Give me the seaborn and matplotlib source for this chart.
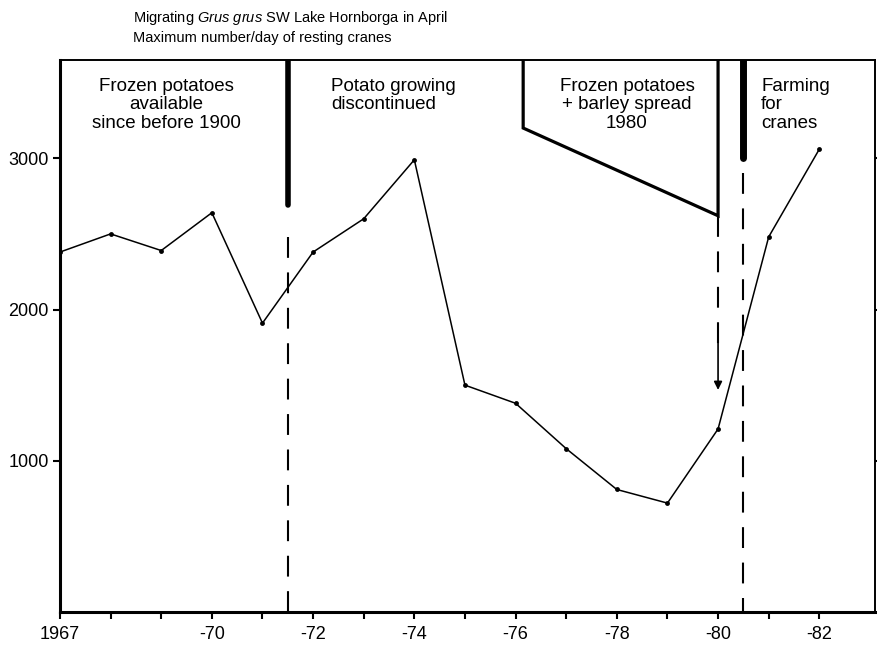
"""
Migrating Grus grus at Lake Hornborga: maximum number of resting cranes per day in April.
"""

import pandas as pd
import matplotlib
matplotlib.use('Agg')
import matplotlib.pyplot as plt
import seaborn as sns

# Data
years = [1967, 1968, 1969, 1970, 1971, 1972, 1973, 1974,
         1975, 1976, 1977, 1978, 1979, 1980, 1981, 1982]
max_cranes = [2380, 2500, 2390, 2640, 1910, 2380, 2600, 2990,
              1500, 1380, 1080, 810, 720, 1210, 2480, 3060]
tick_years = [1967, 1970, 1972, 1974, 1976, 1978, 1980, 1982]
tick_labels = ['1967', '-70', '-72', '-74', '-76', '-78', '-80', '-82']
y_ticks = [1000, 2000, 3000]

df = pd.DataFrame({'Year': years, 'Cranes': max_cranes})

sns.set_style('ticks', {'xtick.bottom': True, 'ytick.left': True})
plt.rcParams['font.family'] = ['Liberation Sans', 'DejaVu Sans']
plt.rcParams['text.color'] = 'black'
plt.rcParams['mathtext.fontset'] = 'custom'
plt.rcParams['mathtext.it'] = 'Liberation Sans:italic'
plt.rcParams['mathtext.rm'] = 'Liberation Sans'
plt.rcParams['xtick.major.size'] = 5
plt.rcParams['xtick.minor.size'] = 5
plt.rcParams['ytick.major.size'] = 5
plt.rcParams['xtick.major.width'] = 1.5
plt.rcParams['xtick.minor.width'] = 1.5
plt.rcParams['ytick.major.width'] = 1.5

fig = plt.figure(figsize=(8.77, 6.47), dpi=100)
ax = fig.add_axes([0.0684, 0.0541, 0.9293, 0.8532])

sns.lineplot(data=df, x='Year', y='Cranes', ax=ax, color='black', lw=1.1,
             marker='o', markersize=3.5, markeredgewidth=0)

ax.set_xlim(1967, 1983.1)
ax.set_ylim(0, 3650)

# ticks
ax.set_xticks(range(1967, 1983), minor=True)
ax.set_xticks(tick_years)
ax.set_xticklabels(tick_labels)
ax.set_yticks(y_ticks)
ax.set_yticklabels([str(v) for v in y_ticks])
ax.tick_params(which='both', direction='out', labelsize=13,
               colors='black', left=True, bottom=True, right=True, top=False)
ax.tick_params(axis='x', which='both', pad=5)
ax.tick_params(axis='y', pad=3)
ax.set_xlabel('')
ax.set_ylabel('')

for side in ['left', 'bottom', 'top', 'right']:
    ax.spines[side].set_visible(True)
    ax.spines[side].set_color('black')
for side in ['left', 'bottom']:
    ax.spines[side].set_linewidth(2.2)
for side in ['top', 'right']:
    ax.spines[side].set_linewidth(1.4)

dash = (0, (10, 7))

# 1971/72: thick bar then dashed line
ax.plot([1971.5, 1971.5], [3650, 2690], color='black', lw=4)
ax.plot([1971.5, 1971.5], [2480, 0], color='black', lw=1.5, linestyle=dash)

# frozen potatoes + barley 1980 box
ax.plot([1976.15, 1976.15, 1980.0, 1980.0], [3650, 3200, 2620, 3650],
        color='black', lw=2.3, solid_joinstyle='miter')
ax.plot([1980.0, 1980.0], [2620, 1700], color='black', lw=1.5, linestyle=dash)
ax.annotate('', xy=(1980.0, 1450), xytext=(1980.0, 1800),
            arrowprops=dict(arrowstyle='-|>', color='black', lw=1.2,
                            mutation_scale=12))

# 1980/81: thick bar then dashed line
ax.plot([1980.5, 1980.5], [3650, 3000], color='black', lw=5)
ax.plot([1980.5, 1980.5], [2900, 0], color='black', lw=1.5, linestyle=dash)

# annotations
fs = 13.5
ax.text(1969.1, 3530, 'Frozen potatoes\navailable\nsince before 1900',
        ha='center', va='top', fontsize=fs, linespacing=1.1, color='black')
ax.text(1972.35, 3530, 'Potato growing\ndiscontinued',
        ha='left', va='top', fontsize=fs, linespacing=1.1, color='black')
ax.text(1978.2, 3530, 'Frozen potatoes\n+ barley spread\n1980',
        ha='center', va='top', fontsize=fs, linespacing=1.1, color='black')
ax.text(1980.85, 3530, 'Farming\nfor\ncranes',
        ha='left', va='top', fontsize=fs, linespacing=1.1, color='black')

# title
fig.text(0.152, 0.972, r'Migrating $\it{Grus\ grus}$ SW Lake Hornborga in April',
         ha='left', va='center', fontsize=10.5, color='black')
fig.text(0.152, 0.942, 'Maximum number/day of resting cranes',
         ha='left', va='center', fontsize=10.5, color='black')

plt.savefig('out.png', dpi=100)
